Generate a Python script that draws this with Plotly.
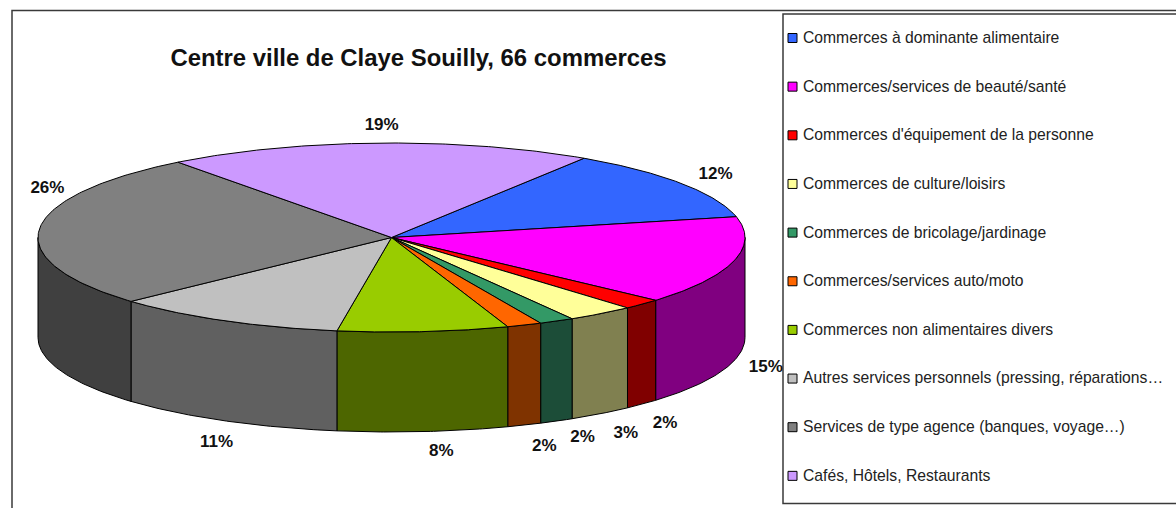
import numpy as np
import plotly.graph_objects as go

# Share of the 66 shops per category, in percent
categories = [
    "Commerces à dominante alimentaire",
    "Commerces/services de beauté/santé",
    "Commerces d'équipement de la personne",
    "Commerces de culture/loisirs",
    "Commerces de bricolage/jardinage",
    "Commerces/services auto/moto",
    "Commerces non alimentaires divers",
    "Autres services personnels (pressing, réparations…",
    "Services de type agence (banques, voyage…)",
    "Cafés, Hôtels, Restaurants",
]
shares = [12.3, 15.1, 1.8, 3.1, 1.6, 1.6, 7.8, 10.72, 26.49, 19.49]
top_colors = ["#3366FF", "#FF00FF", "#FF0000", "#FFFF99", "#339966",
              "#FF6600", "#99CC00", "#C0C0C0", "#808080", "#CC99FF"]
side_colors = ["#1A3380", "#800080", "#800000", "#808050", "#1C4D38",
               "#7F3300", "#4D6600", "#606060", "#404040", "#664D80"]

title_text = "Centre ville de Claye Souilly, 66 commerces"

# Pie geometry in page pixels
CX, CY, RX, RY, DEPTH = 391.5, 237.5, 353.5, 94.5, 100
START_DEG = 57.0
# Label offsets from the rim point at each slice's mid angle
label_dx = [34, 32, 23, 25, 26, 20, 18, -8, 8, 3]
label_dy = [-9, 7, 20, 20, 17, 22, 20, 22, -40, -17]

LEGEND_TOP, LEGEND_STEP = 38, 48.65
SWATCH_X, LEGEND_TEXT_X = 792.5, 803


def rim(deg):
    a = np.radians(deg)
    return CX + RX * np.cos(a), CY - RY * np.sin(a)


fig = go.Figure()

total = sum(shares)
edges = START_DEG - np.cumsum([0] + shares) * 360 / total
outline = dict(color="#000000", width=1)

# Side walls first, only the part of each slice facing the viewer
for i in range(len(shares)):
    hi, lo = min(edges[i], 0), max(edges[i + 1], -180)
    if hi <= lo:
        continue
    t = np.linspace(hi, lo, 60)
    x, y = rim(t)
    fig.add_trace(go.Scatter(
        x=np.r_[x, x[::-1], x[0]], y=np.r_[y, y[::-1] + DEPTH, y[0]],
        mode="lines", fill="toself", fillcolor=side_colors[i], line=outline,
        hoverinfo="skip", showlegend=False))

# Top faces
for i in range(len(shares)):
    t = np.linspace(edges[i], edges[i + 1], 120)
    x, y = rim(t)
    fig.add_trace(go.Scatter(
        x=np.r_[CX, x, CX], y=np.r_[CY, y, CY],
        mode="lines", fill="toself", fillcolor=top_colors[i], line=outline,
        name=categories[i], hoverinfo="name", showlegend=False))

# Percentage labels
mids = (edges[:-1] + edges[1:]) / 2
lx, ly = rim(mids)
ly = ly + np.where(np.sin(np.radians(mids)) < 0, DEPTH, 0)
fig.add_trace(go.Scatter(
    x=lx + np.array(label_dx), y=ly + np.array(label_dy),
    mode="text", text=[f"{v:.0f}%" for v in shares],
    textposition="middle center",
    textfont=dict(family="Liberation Sans", size=17, color="#111111", weight="bold"),
    hoverinfo="skip", showlegend=False))

# Legend column
rows = LEGEND_TOP + LEGEND_STEP * np.arange(len(categories))
fig.add_trace(go.Scatter(
    x=[SWATCH_X] * len(categories), y=rows, mode="markers",
    marker=dict(symbol="square", size=9, color=top_colors,
                line=dict(color="#000000", width=1)),
    hoverinfo="skip", showlegend=False))
fig.add_trace(go.Scatter(
    x=[LEGEND_TEXT_X] * len(categories), y=rows + 1, mode="text",
    text=categories, textposition="middle right",
    textfont=dict(family="Liberation Sans", size=15.7, color="#222222"),
    hoverinfo="skip", showlegend=False, cliponaxis=False))

frame = dict(color="#3A3A3A", width=1.5)
fig.update_layout(
    width=1176, height=508, margin=dict(l=0, r=0, t=0, b=0),
    paper_bgcolor="#FFFFFF", plot_bgcolor="#FFFFFF",
    title=dict(text=f"<b>{title_text}</b>", x=418.5 / 1176, xanchor="center",
               y=1 - 58 / 508, yanchor="middle",
               font=dict(family="Liberation Sans", size=23.9, color="#111111")),
    xaxis=dict(range=[0, 1176], visible=False, fixedrange=True),
    yaxis=dict(range=[508, 0], visible=False, fixedrange=True),
    shapes=[
        dict(type="rect", x0=12, y0=10.5, x1=1190, y1=520, line=frame, layer="below"),
        dict(type="rect", x0=783, y0=14, x1=1190, y1=503.5, line=frame, layer="below",
             fillcolor="#FFFFFF"),
    ],
)

fig.write_html("out.html", config={"displayModeBar": False})
